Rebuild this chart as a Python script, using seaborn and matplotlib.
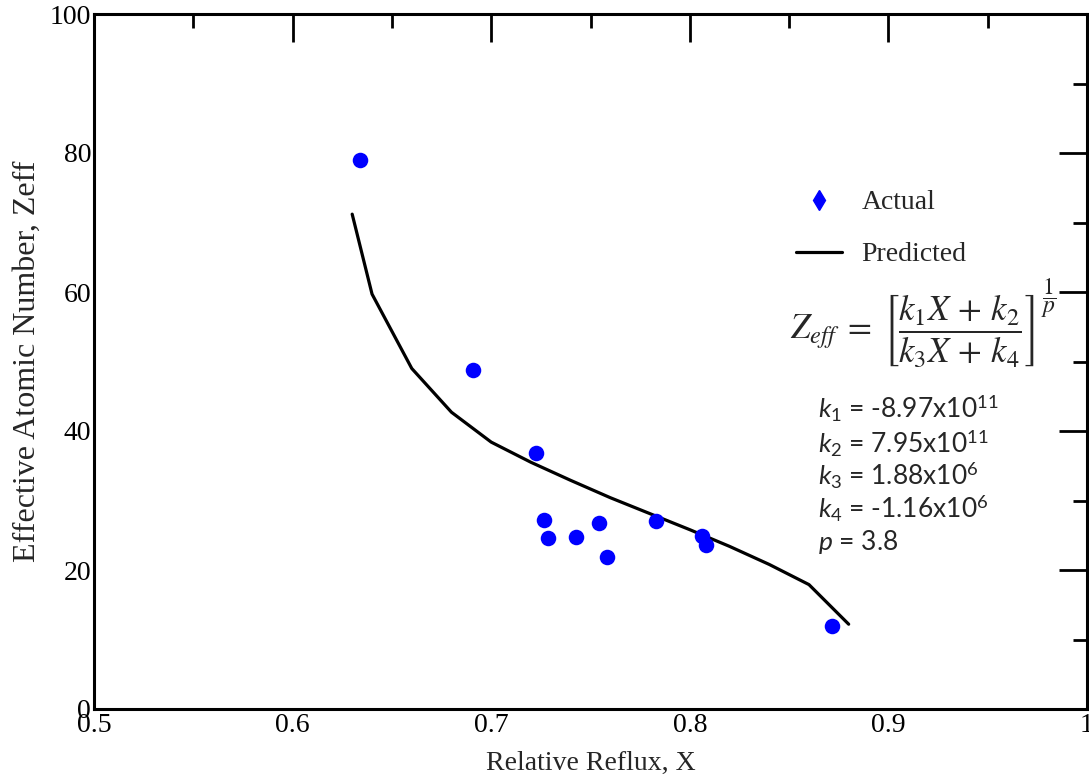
import numpy as np
import pandas as pd
import matplotlib
matplotlib.use("Agg")
import matplotlib.pyplot as plt
from matplotlib.lines import Line2D
from matplotlib.ticker import MultipleLocator
import seaborn as sns

# ---- data ----
actual_x = [0.634, 0.691, 0.7226, 0.7266, 0.7286, 0.7427, 0.7543, 0.7583, 0.783, 0.806, 0.808, 0.8716]
actual_z = [79.0, 48.8, 36.9, 27.2, 24.6, 24.8, 26.7, 21.9, 27.1, 24.9, 23.6, 12.0]

pred_x = [0.63, 0.64, 0.66, 0.68, 0.70, 0.72, 0.74, 0.76, 0.78, 0.80, 0.82, 0.84, 0.86, 0.88]
pred_z = [71.2, 59.7, 49.0, 42.7, 38.4, 35.5, 32.9, 30.4, 28.1, 25.8, 23.4, 20.8, 17.9, 12.2]

x_ticks = [0.5, 0.6, 0.7, 0.8, 0.9, 1.0]
x_tick_labels = ["0.5", "0.6", "0.7", "0.8", "0.9", "1"]
y_ticks = [0, 20, 40, 60, 80, 100]

constants = [
    ("k_1", "-8.97x10", "11"),
    ("k_2", "7.95x10", "11"),
    ("k_3", "1.88x10", "6"),
    ("k_4", "-1.16x10", "6"),
]
p_value = "3.8"

df_act = pd.DataFrame({"X": actual_x, "Zeff": actual_z})
df_pred = pd.DataFrame({"X": pred_x, "Zeff": pred_z})

sns.set_style("white")
plt.rcParams["font.family"] = ["Liberation Serif", "DejaVu Serif"]
plt.rcParams["mathtext.fontset"] = "custom"
plt.rcParams["mathtext.rm"] = "Lato"
plt.rcParams["mathtext.it"] = "Lato:italic"

W, H = 1089, 777
fig = plt.figure(figsize=(W / 100, H / 100), dpi=100)
ax = fig.add_axes([94 / W, 1 - 709 / H, (1087 - 94) / W, (709 - 14) / H])

sns.lineplot(data=df_pred, x="X", y="Zeff", ax=ax, color="black", linewidth=2.3,
             sort=False, legend=False)
sns.scatterplot(data=df_act, x="X", y="Zeff", ax=ax, color="#0000ff", s=125,
                marker="o", edgecolor="#0000ff", linewidth=0, legend=False, zorder=3)

ax.set_xlim(0.5, 1.0)
ax.set_ylim(0, 100)
ax.set_xticks(x_ticks)
ax.set_xticklabels(x_tick_labels)
ax.set_yticks(y_ticks)
ax.xaxis.set_minor_locator(MultipleLocator(0.05))
ax.yaxis.set_minor_locator(MultipleLocator(10))
ax.tick_params(which="both", direction="in", top=True, right=True, width=2,
               labelsize=20, colors="black")
ax.tick_params(which="major", length=20)
ax.tick_params(axis="x", which="major", pad=3)
ax.tick_params(axis="y", which="major", pad=2)
ax.tick_params(which="minor", length=10)
for sp in ax.spines.values():
    sp.set_linewidth(2.2)
    sp.set_color("black")
    sp.set_visible(True)

ax.set_xlabel("Relative Reflux, X", fontsize=20, labelpad=9)
ax.set_ylabel("Effective Atomic Number, Zeff", fontsize=23, labelpad=6)

handles = [
    Line2D([], [], color="#0000ff", marker="d", linestyle="none", markersize=10),
    Line2D([], [], color="black", linewidth=2.3),
]
fig.legend(handles, ["Actual", "Predicted"], loc="upper left",
           bbox_to_anchor=(796 / W, 1 - 190 / H), bbox_transform=fig.transFigure,
           frameon=False, fontsize=20, handlelength=1.65, handletextpad=0.7,
           labelspacing=0.95, borderpad=0, borderaxespad=0)

# equation
fig.text(1035 / W, 1 - 330 / H,
         r"$Z_{eff}\;=\;\left[\dfrac{k_1X\,+\,k_2}{k_3X\,+\,k_4}\right]$",
         fontsize=25, ha="right", va="center", math_fontfamily="stix")
fig.text(1049 / W, 1 - 298 / H, r"$\dfrac{1}{p}$",
         fontsize=17, ha="center", va="center", math_fontfamily="stix")

line_y = [408, 442, 475, 508]
for (k, val, exp), yy in zip(constants, line_y):
    fig.text(818 / W, 1 - yy / H, rf"${k}$ = {val}$^{{{exp}}}$",
             fontsize=19, family="Lato", ha="left", va="center",
             math_fontfamily="custom")
fig.text(818 / W, 1 - 542 / H, rf"$p$ = {p_value}", fontsize=19, family="Lato",
         ha="left", va="center", math_fontfamily="custom")

fig.savefig("out.png", dpi=100)
